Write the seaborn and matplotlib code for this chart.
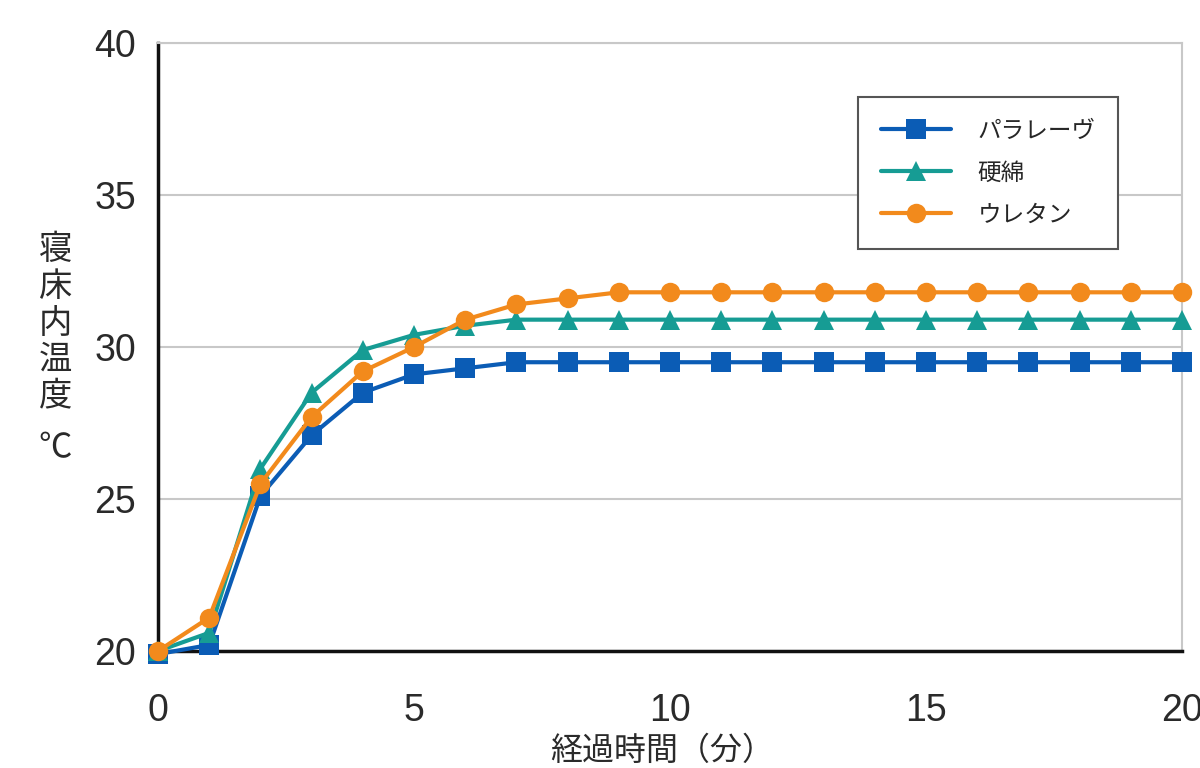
import pandas as pd
import seaborn as sns
import matplotlib.pyplot as plt

# data
minutes = list(range(21))
paraleve = [19.9, 20.2, 25.1, 27.1, 28.5, 29.1, 29.3] + [29.5] * 14
kowata = [20.0, 20.6, 26.0, 28.5, 29.9, 30.4, 30.7] + [30.9] * 14
urethane = [20.0, 21.1, 25.5, 27.7, 29.2, 30.0, 30.9, 31.4, 31.6] + [31.8] * 12

names = ["パラレーヴ", "硬綿", "ウレタン"]
colors = ["#0b5cb5", "#169c94", "#f28a1c"]
markers = ["s", "^", "o"]

df = pd.DataFrame({
    "min": minutes * 3,
    "temp": paraleve + kowata + urethane,
    "kind": [names[0]] * 21 + [names[1]] * 21 + [names[2]] * 21,
})

sns.set_style("white")
plt.rcParams["font.family"] = ["Liberation Sans", "Noto Sans CJK JP", "DejaVu Sans"]
jp = ["Noto Sans CJK JP", "DejaVu Sans"]

fig = plt.figure(figsize=(12, 7.68), dpi=100)
ax = fig.add_axes([0.1317, 0.1523, 0.8533, 0.7917])

ax = sns.lineplot(data=df, x="min", y="temp", hue="kind", style="kind",
                  hue_order=names, style_order=names,
                  palette=dict(zip(names, colors)),
                  markers=dict(zip(names, markers)), dashes=False,
                  linewidth=3, markersize=14, markeredgewidth=0,
                  ax=ax, zorder=3)
for ln in ax.lines:
    ln.set_clip_on(False)

ax.set_xlim(0, 20)
ax.set_ylim(20, 40)
ax.set_xticks([0, 5, 10, 15, 20])
ax.set_yticks([20, 25, 30, 35, 40])
ax.tick_params(axis="both", labelsize=27, colors="#2a2a2a")
ax.tick_params(axis="x", direction="in", length=10, width=1.5, color="#999999", pad=30)
ax.tick_params(axis="y", length=0, pad=16)
ax.yaxis.grid(True, color="#c8c8c8", linewidth=1.5)
ax.set_axisbelow(True)

for s in ["left", "bottom"]:
    ax.spines[s].set_color("#111111")
    ax.spines[s].set_linewidth(2.5)
for s in ["top", "right"]:
    ax.spines[s].set_color("#c8c8c8")
    ax.spines[s].set_linewidth(1.5)

ax.set_xlabel("")
ax.set_ylabel("")
fig.text(0.552, 0.022, "経過時間（分）", fontsize=23, family=jp,
         ha="center", va="center", color="#2a2a2a")

# vertical y label, one character per row
ylab = ["寝", "床", "内", "温", "度"]
for i, ch in enumerate(ylab):
    fig.text(0.046, 1 - (250 + 36.5 * i) / 768, ch, fontsize=24, family=jp,
             ha="center", va="center", color="#2a2a2a")
fig.text(0.046, 1 - 448 / 768, "℃", fontsize=24, family=jp,
         ha="center", va="center", color="#2a2a2a")

h, l = ax.get_legend_handles_labels()
leg = ax.legend(h, l, loc="upper right", bbox_to_anchor=(0.9375, 0.911),
                borderaxespad=0, frameon=True, fancybox=False, handlelength=3.0,
                borderpad=0.95, labelspacing=0.8, handletextpad=1.1,
                prop={"family": jp, "size": 17})
leg.get_frame().set_edgecolor("#555555")
leg.get_frame().set_linewidth(1.5)
leg.get_frame().set_alpha(1)

fig.savefig("out.png", dpi=100)
